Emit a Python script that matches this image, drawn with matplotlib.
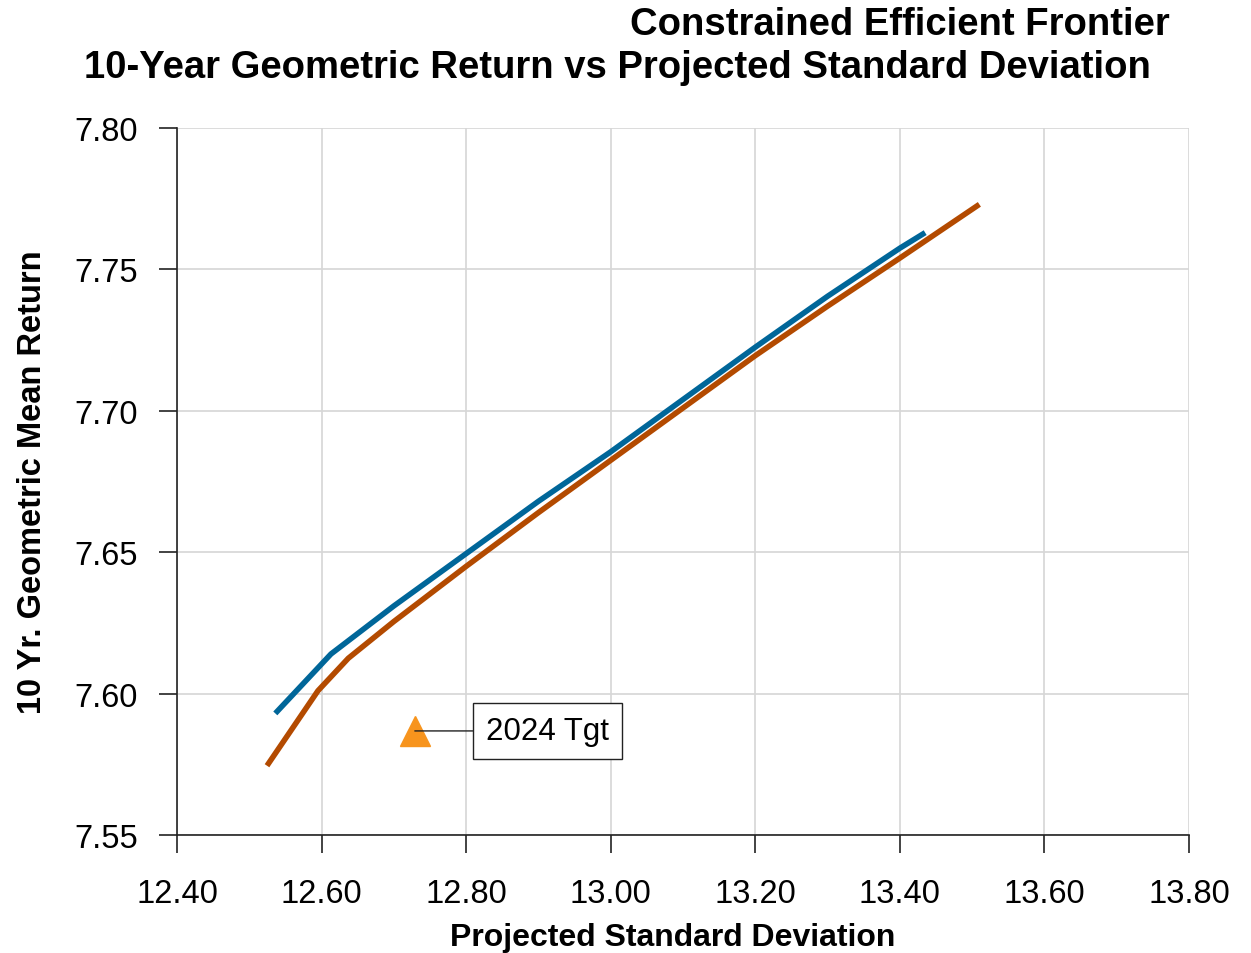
import matplotlib.pyplot as plt

plt.rcParams['font.family'] = ['Liberation Sans', 'DejaVu Sans']

# blue frontier
blue_sd = [12.536, 12.613, 12.70, 12.80, 12.90, 13.00, 13.10, 13.20, 13.30, 13.40, 13.435]
blue_ret = [7.593, 7.614, 7.631, 7.6495, 7.668, 7.6855, 7.704, 7.7225, 7.7405, 7.7575, 7.763]

# orange frontier
orange_sd = [12.5245, 12.595, 12.637, 12.70, 12.80, 12.90, 13.00, 13.10, 13.20, 13.30, 13.40, 13.51]
orange_ret = [7.5745, 7.601, 7.6125, 7.6255, 7.645, 7.664, 7.6825, 7.701, 7.7195, 7.737, 7.754, 7.773]

# target portfolio
tgt_sd = [12.729]
tgt_ret = [7.5868]
tgt_label = "2024 Tgt"

xticks = [12.40, 12.60, 12.80, 13.00, 13.20, 13.40, 13.60, 13.80]
yticks = [7.55, 7.60, 7.65, 7.70, 7.75, 7.80]

fig = plt.figure(figsize=(12.51, 9.54), dpi=100)
ax = fig.add_axes([177/1251, 1 - 836/954, (1189 - 177)/1251, (836 - 129)/954])

ax.plot(orange_sd, orange_ret, color='#B34A00', lw=4, solid_capstyle='butt', zorder=3)
ax.plot(blue_sd, blue_ret, color='#006699', lw=4, solid_capstyle='butt', zorder=4)
ax.plot(tgt_sd, tgt_ret, marker='^', ms=22, color='#F7941D', ls='none', zorder=5)

ax.annotate(tgt_label, xy=(tgt_sd[0], tgt_ret[0]), xytext=(12.913, tgt_ret[0]),
            fontsize=22.5, va='center', ha='center',
            bbox=dict(boxstyle='square,pad=0.42', fc='white', ec='#222222', lw=1),
            arrowprops=dict(arrowstyle='-', color='#222222', lw=1, shrinkA=0, shrinkB=0),
            zorder=6)

ax.set_xlim(12.40, 13.80)
ax.set_ylim(7.55, 7.80)
ax.set_xticks(xticks)
ax.set_yticks(yticks)
ax.set_xticklabels([f"{v:.2f}" for v in xticks])
ax.set_yticklabels([f"{v:.2f}" for v in yticks])
ax.grid(True, color='#D6D6D6', lw=1.2)
ax.set_axisbelow(True)
for s in ['top', 'right']:
    ax.spines[s].set_visible(False)
for s in ['left', 'bottom']:
    ax.spines[s].set_color('#222222')
    ax.spines[s].set_linewidth(1.2)
ax.tick_params(axis='both', direction='out', length=13, width=1.2, color='#222222', labelsize=23.5)
ax.tick_params(axis='y', pad=15)
ax.tick_params(axis='x', pad=18)

ax.set_xlabel("Projected Standard Deviation", fontsize=23, fontweight='bold')
ax.xaxis.set_label_coords((673 - 177) / (1189 - 177), -(938 - 836) / (836 - 129))
ax.xaxis.label.set_va('center')
ax.set_ylabel("10 Yr. Geometric Mean Return", fontsize=23.5, fontweight='bold')
ax.yaxis.set_label_coords(-(177 - 33) / (1189 - 177), 0.5)
ax.yaxis.label.set_va('center')

fig.text(900/1251, 1 - 25/954, "Constrained Efficient Frontier", fontsize=27.5,
         fontweight='bold', ha='center', va='center')
fig.text(617/1251, 1 - 68/954, "10-Year Geometric Return vs Projected Standard Deviation",
         fontsize=27.5, fontweight='bold', ha='center', va='center')

fig.savefig('out.png', dpi=100)
